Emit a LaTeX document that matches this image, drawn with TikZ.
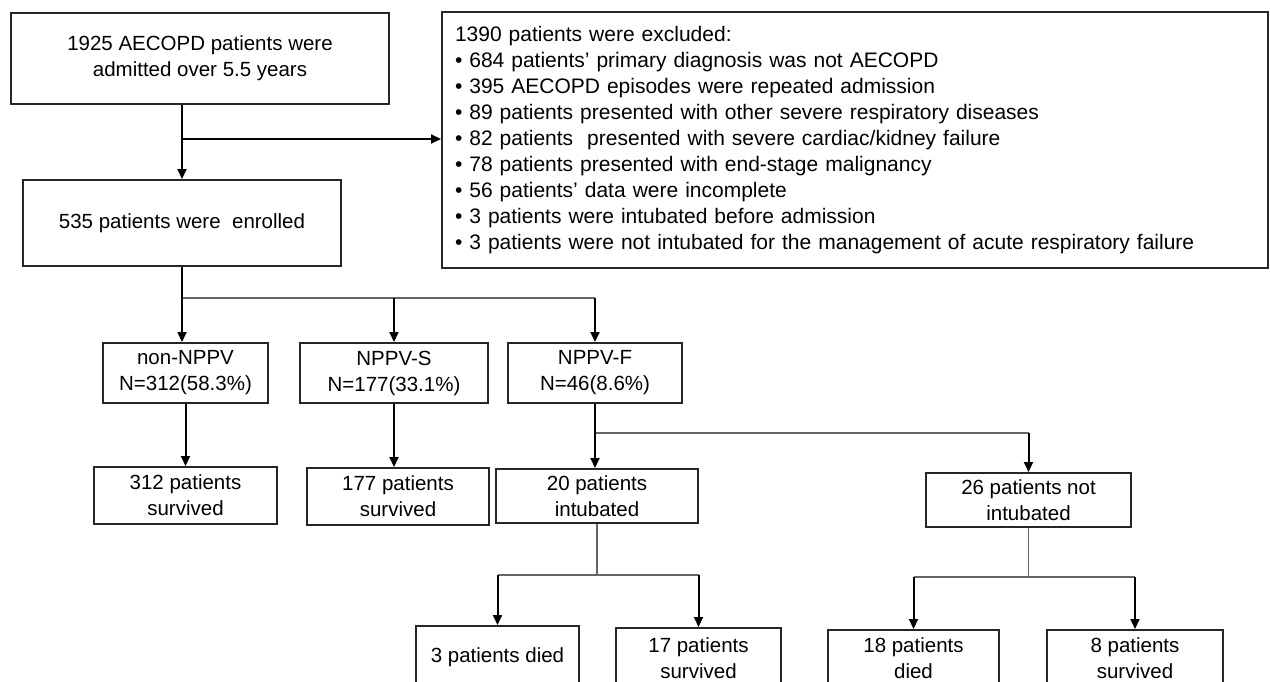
\documentclass[tikz,border=0pt]{standalone}
\usepackage{fontspec}
\setmainfont{Liberation Sans}
\usetikzlibrary{arrows.meta}
\newcommand{\fcfont}{\fontsize{20.5}{26}\selectfont}
\newcommand{\exfont}{\fontsize{21}{26}\selectfont}
\tikzset{
  fcbox/.style={rectangle, draw=black!85, line width=2pt, inner sep=2pt,
                align=center, font=\fcfont},
  exbox/.style={fcbox, align=left, font=\exfont, inner xsep=12pt},
  fcarr/.style={-{Triangle[length=10pt,width=9pt]}, line width=2pt, black},
  fcthin/.style={line width=1.4pt, black!60},
}

\begin{document}
\begin{tikzpicture}[x=1pt, y=-1pt]
  \clip (0,0) rectangle (1270,681);
  \fill[white] (0,0) rectangle (1270,681);
  % screening
  \node[fcbox, minimum width=378pt, minimum height=91pt] (adm) at (200,58.5)
    {1925 AECOPD patients were\\admitted over 5.5 years};
  \node[fcbox, minimum width=318pt, minimum height=86pt] (enr) at (182,223)
    {535 patients were\ \ enrolled};
  \node[exbox, minimum width=826pt, minimum height=256pt, text width=800pt] (exc) at (855,140)
    {1390 patients were excluded:\\
     • 684 patients’ primary diagnosis was not AECOPD\\
     • 395 AECOPD episodes were repeated admission\\
     • 89 patients presented with other severe respiratory diseases\\
     • 82 patients\ \ presented with severe cardiac/kidney failure\\
     • 78 patients presented with end-stage malignancy\\
     • 56 patients’ data were incomplete\\
     • 3 patients were intubated before admission\\
     • 3 patients were not intubated for the management of acute respiratory failure};
  % groups
  \node[fcbox, minimum width=165pt, minimum height=60pt] (non)  at (185.5,373) {non-NPPV\\N=312(58.3\%)};
  \node[fcbox, minimum width=188pt, minimum height=60pt] (suc)  at (394,373)   {NPPV-S\\N=177(33.1\%)};
  \node[fcbox, minimum width=174pt, minimum height=60pt] (fail) at (595,373)   {NPPV-F\\N=46(8.6\%)};
  % outcomes
  \node[fcbox, minimum width=183pt, minimum height=57pt] (s312) at (185.5,495.5) {312 patients\\survived};
  \node[fcbox, minimum width=182pt, minimum height=57pt] (s177) at (398,496.5)   {177 patients\\survived};
  \node[fcbox, minimum width=202pt, minimum height=54pt] (int)  at (597,496)     {20 patients\\intubated};
  \node[fcbox, minimum width=205pt, minimum height=54pt] (nint) at (1028.5,500)  {26 patients not\\intubated};
  \node[fcbox, minimum width=163pt, minimum height=62pt] (d3)   at (497.5,657)   {3 patients died};
  \node[fcbox, minimum width=165pt, minimum height=60pt] (s17)  at (698.5,658)   {17 patients\\survived};
  \node[fcbox, minimum width=171pt, minimum height=56pt] (d18)  at (913.5,658)   {18 patients\\died};
  \node[fcbox, minimum width=176pt, minimum height=56pt] (s8)   at (1135,658)    {8 patients\\survived};
  % branch levels
  \coordinate (bus0) at (0,139);
  \coordinate (bus1) at (0,298);
  \coordinate (bus2) at (0,433);
  \coordinate (bus3) at (0,575);
  \coordinate (bus4) at (0,577);
  % connectors
  \draw[fcarr] (enr.north |- adm.south) -- (enr.north);
  \draw[fcarr] (enr.north |- bus0) -- (exc.west |- bus0);
  \draw[fcthin] (enr.south |- bus1) -- (fail.north |- bus1);
  \draw[fcarr] (enr.south) -- (enr.south |- non.north);
  \foreach \n in {suc,fail} {\draw[fcarr] (\n.north |- bus1) -- (\n.north);}
  \draw[fcarr] (non.south) -- (non.south |- s312.north);
  \draw[fcarr] (suc.south) -- (suc.south |- s177.north);
  \draw[fcthin] (fail.south |- bus2) -- (nint.north |- bus2);
  \draw[fcarr] (fail.south) -- (fail.south |- int.north);
  \draw[fcarr] (nint.north |- bus2) -- (nint.north);
  \draw[fcthin] (int.south) -- (int.south |- bus3);
  \draw[fcthin] (d3.north |- bus3) -- (s17.north |- bus3);
  \foreach \n in {d3,s17} {\draw[fcarr] (\n.north |- bus3) -- (\n.north);}
  \draw[fcthin] (nint.south) -- (nint.south |- bus4);
  \draw[fcthin] (d18.north |- bus4) -- (s8.north |- bus4);
  \foreach \n in {d18,s8} {\draw[fcarr] (\n.north |- bus4) -- (\n.north);}
\end{tikzpicture}
\end{document}
